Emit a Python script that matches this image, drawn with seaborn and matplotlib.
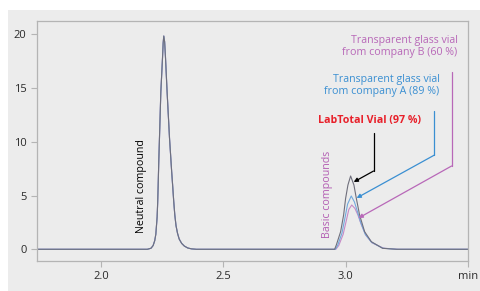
import numpy as np
import pandas as pd
import seaborn as sns
import matplotlib.pyplot as plt
from matplotlib.patches import Rectangle

# Values (time in min, signal)
neutral_t = [1.74, 2.19, 2.205, 2.2135, 2.22, 2.2245, 2.2275, 2.2298, 2.232, 2.2339,
             2.2367, 2.2396, 2.2449, 2.2518, 2.2545, 2.257, 2.2605, 2.2641, 2.2706,
             2.2804, 2.2849, 2.289, 2.2931, 2.2975, 2.302, 2.307, 2.313, 2.320,
             2.330, 2.341, 2.355, 2.37, 2.39]
neutral_y = [0, 0, 0.1, 0.35, 0.8, 1.4, 2.3, 3.0, 4.3, 5.8,
             8.3, 10.5, 14.6, 17.8, 19.2, 19.84, 19.3, 17.8, 14.63,
             10.35, 8.77, 7.3, 5.98, 4.5, 3.2, 2.2, 1.5, 0.95,
             0.55, 0.3, 0.12, 0.04, 0]

labtotal_t = [2.955, 2.962, 2.9796, 2.9918, 3.0, 3.0094, 3.0204, 3.0339, 3.0437,
              3.0571, 3.0776, 3.1049, 3.151, 3.208, 3.5]
labtotal_y = [0, 0.4, 1.64, 3.19, 4.74, 5.98, 6.82, 5.98, 4.74,
              3.19, 1.64, 0.71, 0.09, 0, 0]

vial_a_t = [2.958, 2.968, 2.985, 2.998, 3.008, 3.023, 3.036, 3.047, 3.06,
            3.08, 3.106, 3.152, 3.21, 3.5]
vial_a_y = [0, 0.4, 1.5, 3.0, 4.2, 4.96, 4.4, 3.6, 2.6,
            1.4, 0.65, 0.1, 0, 0]

vial_b_t = [2.96, 2.972, 2.99, 3.003, 3.013, 3.025, 3.038, 3.05, 3.064,
            3.083, 3.108, 3.155, 3.215, 3.5]
vial_b_y = [0, 0.35, 1.4, 2.7, 3.7, 4.12, 3.8, 3.2, 2.3,
            1.3, 0.6, 0.1, 0, 0]

xticks = [2.0, 2.5, 3.0, 3.5]
xticklabels = ['2.0', '2.5', '3.0', 'min']
yticks = [0, 5, 10, 15, 20]

frames = []
for name, t, y in [('B', vial_b_t, vial_b_y), ('A', vial_a_t, vial_a_y),
                   ('LabTotal', labtotal_t, labtotal_y)]:
    frames.append(pd.DataFrame({'time': neutral_t + t, 'signal': neutral_y + y,
                                'vial': name}))
data = pd.concat(frames, ignore_index=True)

sns.set_theme(style='ticks')
plt.rcParams['font.family'] = ['Open Sans', 'DejaVu Sans']

bg = '#ececec'
gray = '#b4b4b4'
fig = plt.figure(figsize=(4.8, 2.91), dpi=100)
fig.patch.set_facecolor('white')
fig.patches.append(Rectangle((8 / 480, 0), 1, 1 - 10 / 291, transform=fig.transFigure,
                             facecolor=bg, edgecolor='none', zorder=-10))
ax = fig.add_axes([37 / 480, 1 - 261 / 291, 431 / 480, 240 / 291])
ax.set_facecolor(bg)

palette = {'B': '#c68ac6', 'A': '#72a9dc', 'LabTotal': '#6f6f7c'}
sns.lineplot(data=data, x='time', y='signal', hue='vial', palette=palette,
             linewidth=0.8, estimator=None, sort=False, legend=False, ax=ax)

ax.set_xlim(1.739, 3.5)
ax.set_ylim(-1.09, 21.24)
ax.set_xticks(xticks)
ax.set_xticklabels(xticklabels)
ax.set_yticks(yticks)
ax.set_xlabel('')
ax.set_ylabel('')
for s in ax.spines.values():
    s.set_color(gray)
    s.set_linewidth(0.9)
ax.tick_params(colors=gray, labelcolor='#2a2a2a', labelsize=8, length=4, width=0.8)

fs = 7.7
ax.text(2.165, 1.52, 'Neutral compound', rotation=90, ha='center', va='bottom',
        fontsize=fs, color='black')
ax.text(2.927, 1.05, 'Basic compounds', rotation=90, ha='center', va='bottom',
        fontsize=fs, color='#b35db3')

ax.text(3.098, 11.96, 'LabTotal Vial (97 %)', ha='center', va='center',
        fontsize=fs, color='#e8202a', fontweight='bold')
ax.text(3.384, 15.24, 'Transparent glass vial\nfrom company A (89 %)', ha='right',
        va='center', fontsize=fs, color='#3a8fd2', linespacing=1.15)
ax.text(3.457, 18.87, 'Transparent glass vial\nfrom company B (60 %)', ha='right',
        va='center', fontsize=fs, color='#b868b8', linespacing=1.15)

# leader lines: (x, top, corner y, arrow head)
leaders = [(3.114, 10.82, 7.28, (3.033, 6.26), 'black'),
           (3.363, 12.86, 8.77, (3.045, 4.77), '#3a8fd2'),
           (3.433, 16.49, 7.75, (3.053, 2.91), '#b868b8')]
for x, top, corner, head, c in leaders:
    ax.plot([x, x], [top, corner], color=c, linewidth=0.9)
    ax.annotate('', xy=head, xytext=(x, corner),
                arrowprops=dict(arrowstyle='-|>', color=c, lw=0.9,
                                mutation_scale=6, shrinkA=0, shrinkB=0))

fig.savefig('out.png', dpi=100)
